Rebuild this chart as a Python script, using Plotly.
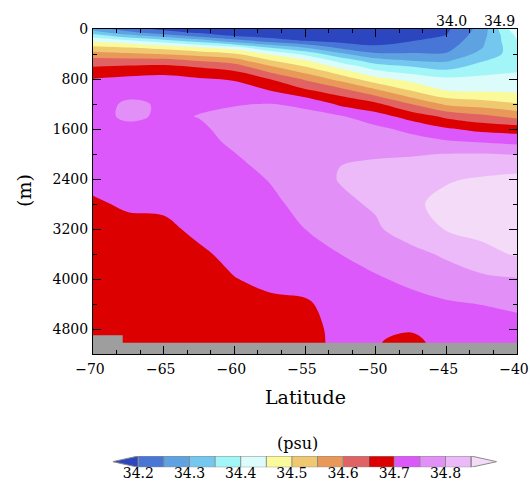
import plotly.graph_objects as go

# ---- section data: zonal-mean salinity (psu) vs latitude and depth ----
lat = [-70.0, -67.5, -65.0, -62.5, -60.0, -57.5, -55.0, -52.5, -50.0, -47.5, -45.0, -42.5, -40.0]
depth = [0, 50, 100, 200, 300, 400, 500, 600, 800, 1000, 1200, 1400, 1600, 1800,
         2000, 2400, 2800, 3200, 3600, 4000, 4400, 4800, 5000, 5200]

# one row per depth, one column per latitude
salinity = [
    [34.280, 34.220, 34.190, 34.180, 34.150, 34.120, 34.080, 34.030, 34.050, 34.100, 34.190, 34.270, 34.440],
    [34.320, 34.260, 34.217, 34.190, 34.170, 34.140, 34.110, 34.060, 34.080, 34.125, 34.195, 34.275, 34.425],
    [34.370, 34.310, 34.267, 34.223, 34.190, 34.170, 34.140, 34.100, 34.110, 34.153, 34.201, 34.280, 34.410],
    [34.450, 34.420, 34.385, 34.340, 34.282, 34.240, 34.207, 34.190, 34.175, 34.201, 34.218, 34.289, 34.398],
    [34.517, 34.505, 34.484, 34.459, 34.427, 34.352, 34.301, 34.241, 34.217, 34.228, 34.235, 34.297, 34.385],
    [34.570, 34.558, 34.547, 34.528, 34.507, 34.444, 34.387, 34.312, 34.257, 34.254, 34.254, 34.317, 34.375],
    [34.616, 34.617, 34.616, 34.593, 34.569, 34.502, 34.452, 34.379, 34.319, 34.296, 34.291, 34.344, 34.380],
    [34.649, 34.656, 34.661, 34.645, 34.624, 34.556, 34.499, 34.434, 34.374, 34.350, 34.329, 34.368, 34.388],
    [34.701, 34.712, 34.718, 34.705, 34.695, 34.649, 34.593, 34.532, 34.467, 34.433, 34.409, 34.412, 34.414],
    [34.720, 34.735, 34.730, 34.730, 34.726, 34.705, 34.664, 34.627, 34.568, 34.505, 34.454, 34.450, 34.445],
    [34.730, 34.758, 34.745, 34.746, 34.748, 34.751, 34.742, 34.690, 34.661, 34.600, 34.541, 34.524, 34.504],
    [34.735, 34.758, 34.744, 34.751, 34.758, 34.765, 34.762, 34.755, 34.722, 34.681, 34.640, 34.614, 34.586],
    [34.730, 34.738, 34.735, 34.745, 34.760, 34.770, 34.772, 34.770, 34.762, 34.737, 34.706, 34.685, 34.679],
    [34.725, 34.730, 34.728, 34.738, 34.757, 34.768, 34.778, 34.785, 34.783, 34.770, 34.755, 34.745, 34.735],
    [34.720, 34.725, 34.722, 34.732, 34.749, 34.762, 34.780, 34.797, 34.797, 34.797, 34.801, 34.802, 34.797],
    [34.710, 34.715, 34.715, 34.725, 34.735, 34.752, 34.775, 34.803, 34.812, 34.825, 34.845, 34.855, 34.865],
    [34.695, 34.705, 34.706, 34.715, 34.725, 34.740, 34.763, 34.790, 34.806, 34.840, 34.865, 34.875, 34.890],
    [34.685, 34.690, 34.693, 34.707, 34.716, 34.728, 34.750, 34.773, 34.793, 34.825, 34.853, 34.865, 34.885],
    [34.680, 34.682, 34.685, 34.695, 34.708, 34.718, 34.735, 34.750, 34.768, 34.785, 34.808, 34.835, 34.855],
    [34.680, 34.680, 34.680, 34.688, 34.699, 34.707, 34.715, 34.730, 34.745, 34.760, 34.775, 34.790, 34.797],
    [34.678, 34.678, 34.678, 34.684, 34.692, 34.694, 34.695, 34.715, 34.725, 34.735, 34.745, 34.751, 34.758],
    [34.675, 34.676, 34.677, 34.682, 34.688, 34.690, 34.686, 34.712, 34.710, 34.703, 34.718, 34.726, 34.735],
    [34.675, 34.675, 34.676, 34.680, 34.686, 34.688, 34.685, 34.711, 34.702, 34.692, 34.712, 34.718, 34.728],
    [34.675, 34.675, 34.676, 34.680, 34.686, 34.688, 34.685, 34.711, 34.702, 34.690, 34.712, 34.718, 34.728],
]

# sea floor (grey land mask)
floor_lat = [-70.0, -67.9, -67.9, -40.0]
floor_depth = [4900, 4900, 5020, 5020]

# contour levels and fill colours (below first level ... above last level)
levels = [34.20, 34.25, 34.30, 34.35, 34.40, 34.45, 34.50,
          34.55, 34.60, 34.65, 34.70, 34.75, 34.80, 34.85]
colors = ["#2c46c0", "#4876d6", "#5ea2e2", "#74c8f0", "#a2f6f8", "#dcfcfc",
          "#fafa9a", "#f0c870", "#e89858", "#e06262", "#dc0000",
          "#dc58fa", "#e290f8", "#ecbaf8", "#f4dbf8"]
bar_labels = ["34.2", "34.3", "34.4", "34.5", "34.6", "34.7", "34.8"]

FONT = "DejaVu Serif"
W, H = 530, 489
step = round(levels[1] - levels[0], 4)
n = len(colors) - 1
scale = [[i / n, c] for i, c in enumerate(colors)]


def px(x):
    return x / W


def py(y):
    return 1 - y / H


fig = go.Figure()

fig.add_trace(go.Contour(
    x=lat, y=depth, z=salinity,
    colorscale=scale, autocontour=False,
    contours=dict(start=levels[0], end=levels[-1], size=step,
                  coloring="fill", showlines=False),
    line=dict(width=0, smoothing=1.0),
    showscale=False, hoverinfo="skip",
    xaxis="x", yaxis="y",
))

# sea floor
fig.add_trace(go.Scatter(
    x=floor_lat + [floor_lat[-1], floor_lat[0]],
    y=floor_depth + [depth[-1], depth[-1]],
    fill="toself", fillcolor="#9e9e9e", mode="lines",
    line=dict(width=0, color="#9e9e9e"), hoverinfo="skip", showlegend=False,
    xaxis="x", yaxis="y",
))

# ---- label bar ----
mids = [(levels[i] + levels[i + 1]) / 2 for i in range(len(levels) - 1)]
inner = colors[1:-1]
fig.add_trace(go.Heatmap(
    x=levels, y=[0, 1], z=[mids],
    colorscale=[[i / (len(inner) - 1), c] for i, c in enumerate(inner)],
    zmin=mids[0], zmax=mids[-1], showscale=False, hoverinfo="skip",
    xaxis="x2", yaxis="y2",
))
edge = "#8a8a8a"
fig.add_trace(go.Scatter(
    x=[levels[0], levels[0] - step, levels[0], levels[0]], y=[0, 0.5, 1, 0],
    fill="toself", fillcolor=colors[0], mode="lines",
    line=dict(color=edge, width=1), hoverinfo="skip", showlegend=False,
    xaxis="x2", yaxis="y2",
))
fig.add_trace(go.Scatter(
    x=[levels[-1], levels[-1] + step, levels[-1], levels[-1]], y=[0, 0.5, 1, 0],
    fill="toself", fillcolor=colors[-1], mode="lines",
    line=dict(color=edge, width=1), hoverinfo="skip", showlegend=False,
    xaxis="x2", yaxis="y2",
))
sx, sy = [], []
for lv in levels:
    sx += [lv, lv, None]
    sy += [0, 1, None]
sx += [levels[0], levels[-1], None, levels[0], levels[-1]]
sy += [0, 0, None, 1, 1]
fig.add_trace(go.Scatter(
    x=sx, y=sy, mode="lines", line=dict(color=edge, width=1),
    hoverinfo="skip", showlegend=False, xaxis="x2", yaxis="y2",
))

axis_common = dict(
    showline=True, linecolor="black", linewidth=1, mirror="allticks",
    ticks="inside", ticklen=8, tickwidth=1, tickcolor="black",
    showgrid=False, zeroline=False, automargin=False,
    ticklabeloverflow="allow",
    tickfont=dict(family=FONT, size=14, color="black"),
)

fig.update_layout(
    width=W, height=H,
    margin=dict(l=0, r=0, t=0, b=0, autoexpand=False),
    paper_bgcolor="white", plot_bgcolor="white",
    showlegend=False,
    font=dict(family=FONT, color="black"),
    xaxis=dict(
        domain=[px(93), px(517)], anchor="y",
        range=[lat[0], lat[-1]], tick0=-70, dtick=5,
        tickformat="d",
        minor=dict(ticks="inside", ticklen=4, dtick=5 / 3, tick0=-70, tickcolor="black"),
        ticklabelstandoff=2, ticklabelshift=-3,
        **axis_common,
    ),
    yaxis=dict(
        domain=[py(354), py(29)], anchor="x",
        range=[5200, 0], tick0=0, dtick=800,
        minor=dict(ticks="inside", ticklen=4, dtick=400, tick0=0, tickcolor="black"),
        ticklabelstandoff=1,
        **axis_common,
    ),
    xaxis2=dict(
        domain=[px(112.7), px(496.7)], anchor="y2",
        range=[levels[0] - step, levels[-1] + step],
        tickvals=levels[::2], ticktext=bar_labels,
        ticks="", showline=False, showgrid=False, zeroline=False,
        automargin=False, ticklabeloverflow="allow",
        tickfont=dict(family=FONT, size=14, color="black"),
        ticklabelstandoff=-4,
    ),
    yaxis2=dict(
        domain=[py(467.3), py(456)], anchor="x2", range=[0, 1],
        visible=False, showgrid=False, zeroline=False,
    ),
)

zmin = min(min(r) for r in salinity)
zmax = max(max(r) for r in salinity)

ann = [
    dict(text="(m)", x=px(24), y=py(191), textangle=-90, font=dict(size=19)),
    dict(text="Latitude", x=px(305), y=py(397), font=dict(size=19)),
    dict(text="(psu)", x=px(297), y=py(443), font=dict(size=16)),
    dict(text=f"{zmin:.1f}", x=px(451), y=py(20.5), font=dict(size=14)),
    dict(text=f"{zmax:.1f}", x=px(517), y=py(20.5), xanchor="right", font=dict(size=14)),
]
for a in ann:
    a.setdefault("xanchor", "center")
    fig.add_annotation(xref="paper", yref="paper", showarrow=False,
                       yanchor="middle",
                       **{k: v for k, v in a.items() if k != "font"},
                       font=dict(family=FONT, color="black", **a["font"]))

fig.write_html("out.html")
